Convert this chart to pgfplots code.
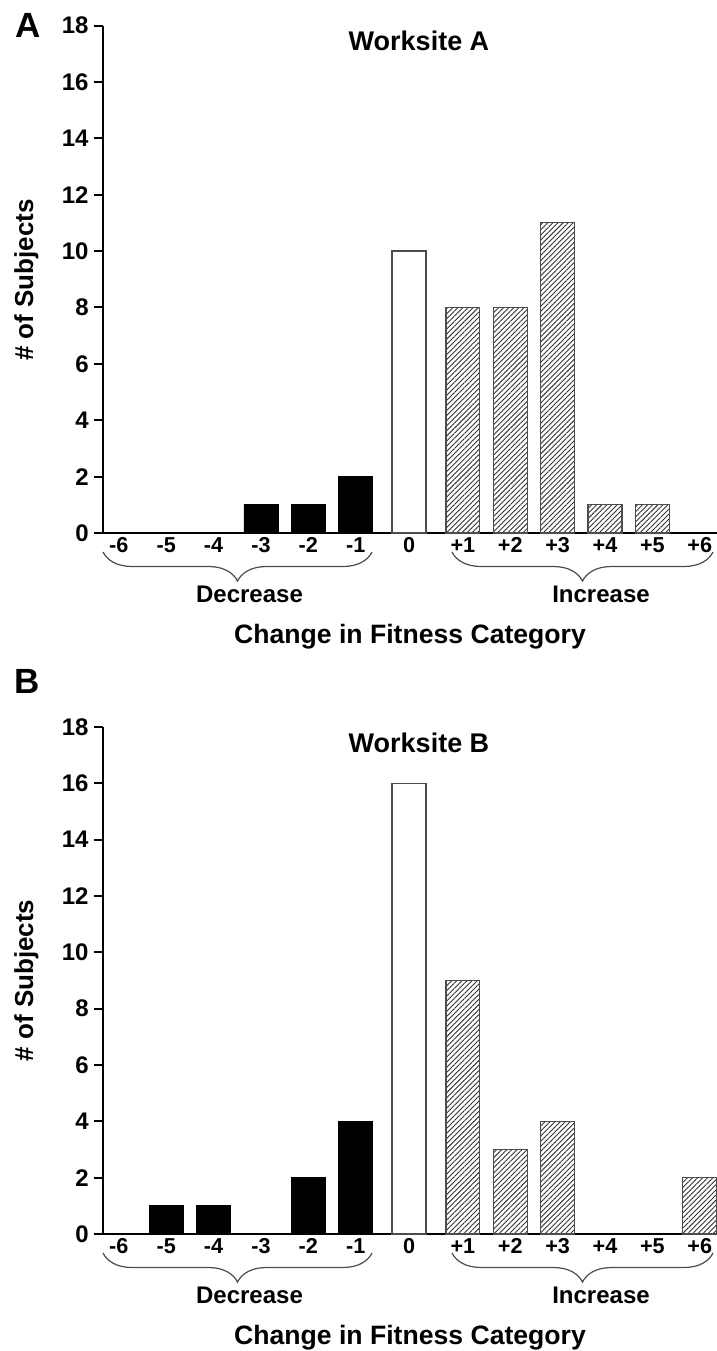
\documentclass[border=0pt]{standalone}
\usepackage{fontspec}
\setmainfont{Liberation Sans}
\usepackage{pgfplots}
\pgfplotsset{compat=1.18}
\usetikzlibrary{patterns.meta,decorations.pathreplacing}

\pgfplotsset{
  panel/.style={
    scale only axis, width=307pt,
    xmin=-6.46, xmax=6.5, ymin=0, ymax=18,
    axis x line*=bottom, axis y line*=left,
    axis line style={line width=1pt},
    ytick={0,2,...,18},
    xtick={-6.126,-5.126,-4.126,-3.126,-2.126,-1.126,0,1.137,2.137,3.137,4.137,5.137,6.137},
    xticklabels={-6,-5,-4,-3,-2,-1,0,+1,+2,+3,+4,+5,+6},
    ytick pos=left,
    ytick align=outside,
    xtick align=inside,
    every tick/.style={black, line width=1pt},
    xtick style={draw=none},
    major tick length=4.5pt,
    /pgf/number format/assume math mode=true,
    yticklabel style={font=\bfseries\fontsize{12}{12}\selectfont, anchor=east, inner sep=0pt, xshift=-2.5pt},
    xticklabel style={font=\bfseries\fontsize{10.8}{10.8}\selectfont, anchor=base, inner sep=0pt, yshift=-9.5pt},
    clip=false,
  },
  negbar/.style={ybar, bar shift=0pt, bar width=0.716, fill=black, draw=black, line width=0.4pt},
  zerobar/.style={ybar, bar shift=0pt, bar width=0.716, fill=white, draw=black!70, line width=0.6pt},
  posbar/.style={ybar, bar shift=0pt, bar width=0.716, draw=black!70, line width=0.6pt,
    pattern={Lines[angle=45,distance=1.8pt,line width=0.45pt]}, pattern color=black!80},
}

\begin{document}
\begin{tikzpicture}
\useasboundingbox (0,0) rectangle (358.5pt,-675.5pt);

% Panel A
\begin{axis}[panel, height=253.75pt, at={(51.5pt,-266.5pt)}, anchor=south west]
\addplot[negbar] coordinates {(-3.126,1) (-2.126,1) (-1.126,2)};
\addplot[zerobar] coordinates {(0,10)};
\addplot[posbar] coordinates {(1.137,8) (2.137,8) (3.137,11) (4.137,1) (5.137,1)};
\end{axis}

% Panel B
\begin{axis}[panel, height=253.5pt, at={(51.5pt,-617pt)}, anchor=south west]
\addplot[negbar] coordinates {(-5.126,1) (-4.126,1) (-2.126,2) (-1.126,4)};
\addplot[zerobar] coordinates {(0,16)};
\addplot[posbar] coordinates {(1.137,9) (2.137,3) (3.137,4) (6.137,2)};
\end{axis}

% Texts A
\node[anchor=base, font=\bfseries\fontsize{17.5}{17.5}\selectfont, inner sep=0pt] at (14pt,-18.5pt) {A};
\node[anchor=base, font=\bfseries\fontsize{13.5}{13.5}\selectfont, inner sep=0pt] at (209.5pt,-25pt) {Worksite A};
\node[anchor=base, rotate=90, font=\bfseries\fontsize{13}{13}\selectfont, inner sep=0pt] at (16.5pt,-140pt) {\# of Subjects};
\draw[black!70, line width=0.6pt, decorate, decoration={brace, mirror, amplitude=14.5pt}] (51.5pt,-276pt) -- (186pt,-276pt);
\draw[black!70, line width=0.6pt, decorate, decoration={brace, mirror, amplitude=14.5pt}] (226pt,-276pt) -- (356.5pt,-276pt);
\node[anchor=base, font=\bfseries\fontsize{12}{12}\selectfont, inner sep=0pt] at (124.75pt,-301pt) {Decrease};
\node[anchor=base, font=\bfseries\fontsize{12}{12}\selectfont, inner sep=0pt] at (300.5pt,-301pt) {Increase};
\node[anchor=base, font=\bfseries\fontsize{13.3}{13.3}\selectfont, inner sep=0pt] at (205pt,-321.5pt) {Change in Fitness Category};

% Texts B
\node[anchor=base, font=\bfseries\fontsize{17.5}{17.5}\selectfont, inner sep=0pt] at (13.5pt,-346.5pt) {B};
\node[anchor=base, font=\bfseries\fontsize{13.5}{13.5}\selectfont, inner sep=0pt] at (209.5pt,-376pt) {Worksite B};
\node[anchor=base, rotate=90, font=\bfseries\fontsize{13}{13}\selectfont, inner sep=0pt] at (16.5pt,-490.25pt) {\# of Subjects};
\draw[black!70, line width=0.6pt, decorate, decoration={brace, mirror, amplitude=14.5pt}] (51.5pt,-626.5pt) -- (186pt,-626.5pt);
\draw[black!70, line width=0.6pt, decorate, decoration={brace, mirror, amplitude=14.5pt}] (226pt,-626.5pt) -- (356.5pt,-626.5pt);
\node[anchor=base, font=\bfseries\fontsize{12}{12}\selectfont, inner sep=0pt] at (124.75pt,-651.5pt) {Decrease};
\node[anchor=base, font=\bfseries\fontsize{12}{12}\selectfont, inner sep=0pt] at (300.5pt,-651.5pt) {Increase};
\node[anchor=base, font=\bfseries\fontsize{13.3}{13.3}\selectfont, inner sep=0pt] at (205pt,-672pt) {Change in Fitness Category};
\end{tikzpicture}
\end{document}
